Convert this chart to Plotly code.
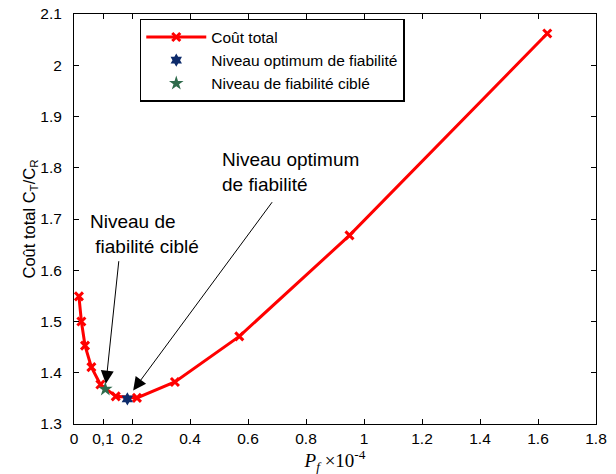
import plotly.graph_objects as go

# Data
pf = [0.017, 0.0255, 0.038, 0.060, 0.091, 0.144, 0.217, 0.348, 0.570, 0.950, 1.632]
cost = [1.549, 1.500, 1.453, 1.411, 1.377, 1.354, 1.351, 1.382, 1.471, 1.668, 2.062]
opt_pf = [0.184]
opt_cost = [1.349]
target_pf = [0.108]
target_cost = [1.368]

xtick_vals = [0, 0.1, 0.2, 0.4, 0.6, 0.8, 1.0, 1.2, 1.4, 1.6, 1.8]
xtick_text = ["0", "0,1", "0.2", "0.4", "0.6", "0.8", "1", "1.2", "1.4", "1.6", "1.8"]
ytick_vals = [1.3, 1.4, 1.5, 1.6, 1.7, 1.8, 1.9, 2.0, 2.1]
ytick_text = ["1.3", "1.4", "1.5", "1.6", "1.7", "1.8", "1.9", "2", "2.1"]

FONT = "Liberation Sans, Arial, Helvetica, sans-serif"

fig = go.Figure()
fig.add_trace(go.Scatter(
    x=pf, y=cost, mode="lines+markers", name="Coût total",
    line=dict(color="#ff0000", width=3),
    marker=dict(symbol="x-thin", size=8, color="#ff0000",
                line=dict(color="#ff0000", width=3)),
))
fig.add_trace(go.Scatter(
    x=opt_pf, y=opt_cost, mode="markers", name="Niveau optimum de fiabilité",
    marker=dict(symbol="hexagram", size=10, color="#0d2b6b"),
))
fig.add_trace(go.Scatter(
    x=target_pf, y=target_cost, mode="markers", name="Niveau de fiabilité ciblé",
    marker=dict(symbol="star", size=11, color="#2f6b4c"),
))

# Arrows
fig.add_annotation(x=0.204, y=1.3656, ax=0.687, ay=1.7357, xref="x", yref="y",
                   axref="x", ayref="y", text="", showarrow=True,
                   arrowhead=2, arrowsize=2.6, arrowwidth=1, arrowcolor="black")
fig.add_annotation(x=0.110, y=1.3787, ax=0.155, ay=1.6206, xref="x", yref="y",
                   axref="x", ayref="y", text="", showarrow=True,
                   arrowhead=2, arrowsize=2.6, arrowwidth=1, arrowcolor="black")
# Texts
fig.add_annotation(x=0.503, y=1.7923, xref="x", yref="y", text="Niveau optimum<br>de fiabilité",
                   showarrow=False, xanchor="left", yanchor="middle", align="left",
                   font=dict(family=FONT, size=19, color="black"))
fig.add_annotation(x=0.048, y=1.67, xref="x", yref="y", text="Niveau de<br>\u00a0fiabilité ciblé",
                   showarrow=False, xanchor="left", yanchor="middle", align="left",
                   font=dict(family=FONT, size=19, color="black"))

# The page adds an 8px body margin, so the margins are shifted to compensate
fig.update_layout(
    width=616, height=474,
    margin=dict(l=66, r=28, t=6, b=58),
    paper_bgcolor="white", plot_bgcolor="white",
    font=dict(family=FONT, size=16, color="black"),
    showlegend=True,
    legend=dict(x=0.126, y=0.988, xanchor="left", yanchor="top",
                bordercolor="black", borderwidth=1.5, bgcolor="white",
                font=dict(family=FONT, size=15.5, color="black"),
                itemwidth=60, tracegroupgap=0),
    xaxis=dict(range=[0, 1.8], tickvals=xtick_vals, ticktext=xtick_text,
               ticks="inside", ticklen=5, tickcolor="black", showline=True,
               linecolor="black", linewidth=1, mirror="allticks", showgrid=False,
               zeroline=False, tickfont=dict(size=15.5), automargin=False,
               ticklabeloverflow="allow",
               title=dict(text="<i>P</i><sub><i>f</i></sub> ×10<sup>-4</sup>",
                          font=dict(family="Liberation Serif, Times New Roman, serif", size=19),
                          standoff=0)),
    yaxis=dict(range=[1.3, 2.1], tickvals=ytick_vals, ticktext=ytick_text,
               ticks="inside", ticklen=5, tickcolor="black", showline=True,
               linecolor="black", linewidth=1, mirror="allticks", showgrid=False,
               zeroline=False, tickfont=dict(size=15.5), ticklabelstandoff=8,
               automargin=False, ticklabeloverflow="allow",
               title=dict(text="Coût total C<sub>T</sub>/C<sub>R</sub>",
                          font=dict(size=16.5), standoff=0)),
)

fig.write_html("out.html")
